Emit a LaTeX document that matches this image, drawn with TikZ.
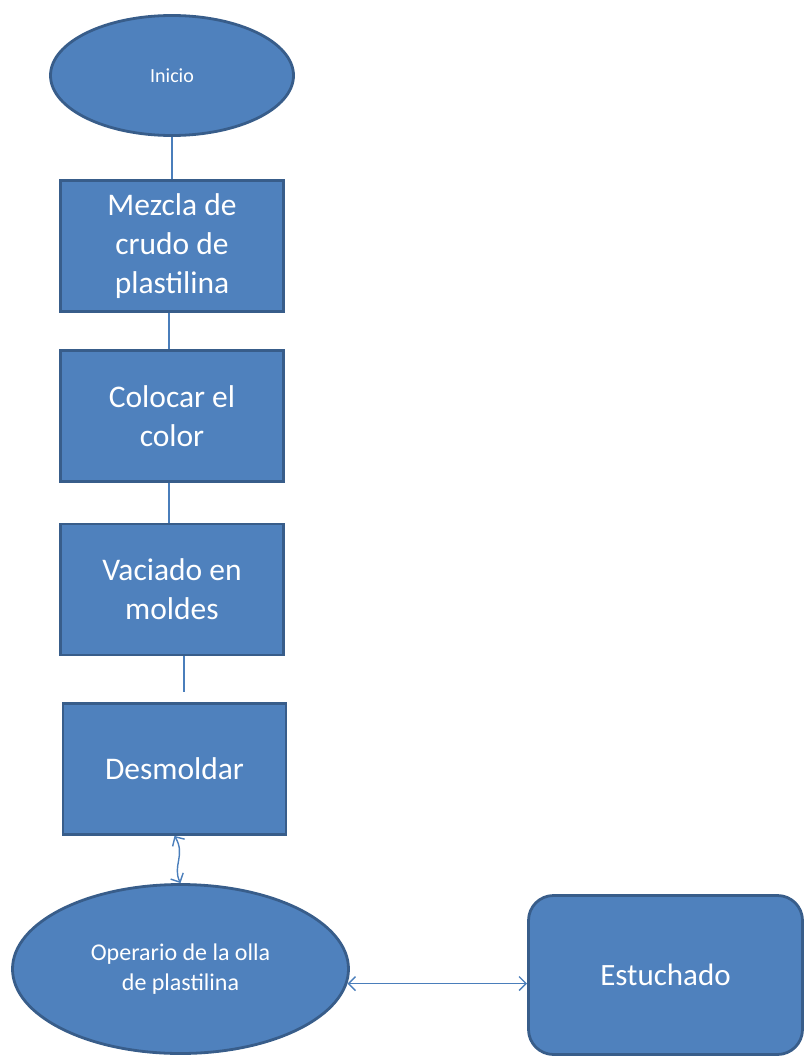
\documentclass[tikz,border=0pt]{standalone}
\usepackage{fontspec}
\setmainfont{Carlito}
\usetikzlibrary{shapes.geometric,arrows.meta}
\definecolor{boxfill}{HTML}{4F81BD}
\definecolor{boxline}{HTML}{385D8A}
\definecolor{linkcol}{HTML}{4A7EBB}
\begin{document}
\begin{tikzpicture}[x=1pt,y=-1pt,>={Straight Barb[length=7pt,width=14pt]},
	proc/.style={draw=boxline,fill=boxfill,line width=2.8pt,text=white,align=center,inner sep=0pt,minimum width=223pt,minimum height=131pt,font=\fontsize{31.5}{39}\selectfont},
	oval/.style={ellipse,draw=boxline,fill=boxfill,line width=2.8pt,text=white,align=center,inner sep=0pt},
	link/.style={draw=linkcol,line width=1.4pt}]
		\useasboundingbox (0,0) rectangle (804,1057);
		\node[oval,minimum width=243pt,minimum height=120pt,font=\fontsize{20}{24}\selectfont] (inicio) at (172,75.5) {Inicio};
		\node[proc] (mezcla) at (172,246) {Mezcla de\\crudo de\\plastilina};
		\node[proc] (color) at (172,416) {Colocar el\\color};
		\node[proc] (vaciado) at (172,589.5) {Vaciado en\\moldes};
		\node[proc] (desmoldar) at (174.5,769) {Desmoldar};
		\node[oval,minimum width=336pt,minimum height=169pt,font=\fontsize{24}{30}\selectfont] (olla) at (180.5,969) {Operario de la olla\\de plastilina};
		\node[proc,rounded corners=25pt,minimum width=274pt,minimum height=159pt,font=\fontsize{31}{37}\selectfont] (estuchado) at (665.5,975) {Estuchado};
		% conectores
		\draw[link] (inicio.south) -- (mezcla.north);
		\draw[link] ([xshift=-3pt]mezcla.south) -- ([xshift=-3pt]color.north);
		\draw[link] ([xshift=-3pt]color.south) -- ([xshift=-3pt]vaciado.north);
		\draw[link] ([xshift=12pt]vaciado.south) -- ([xshift=9.5pt,yshift=10pt]desmoldar.north);
		\draw[link,<->] (desmoldar.south) .. controls (186,855) and (172,866) .. (olla.north);
		\draw[link,<->] (olla.-5.5) -- (olla.-5.5 -| estuchado.west);
\end{tikzpicture}
\end{document}
